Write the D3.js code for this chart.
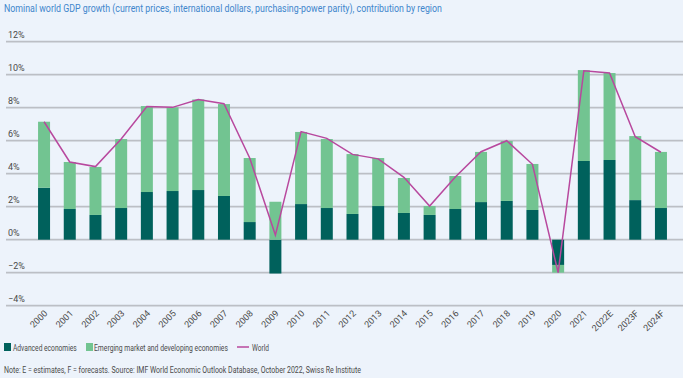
<!DOCTYPE html>
<html><head><meta charset="utf-8">
<script src="https://cdn.jsdelivr.net/npm/d3@7"></script>
<style>
html,body{margin:0;padding:0;background:#edf3fb;}
svg{display:block;}
text{font-family:"Roboto","Liberation Sans",sans-serif;}
</style></head>
<body>
<svg id="chart" width="683" height="378"></svg>
<script>
const years = ["2000","2001","2002","2003","2004","2005","2006","2007","2008","2009","2010","2011","2012","2013","2014","2015","2016","2017","2018","2019","2020","2021","2022E","2023F","2024F"];
const advanced = [3.15,1.86,1.5,1.92,2.89,2.95,3.01,2.65,1.07,-2.05,2.16,1.92,1.56,2.04,1.62,1.5,1.86,2.28,2.35,1.8,-1.53,4.77,4.83,2.4,1.92];
const emerging = [4.0,2.85,2.91,4.18,5.21,5.07,5.49,5.57,3.88,2.3,4.37,4.18,3.63,2.91,2.12,0.54,2.0,3.04,3.63,2.79,-0.47,5.51,5.27,3.88,3.4];
const world = [7.15,4.71,4.43,6.1,8.07,8.02,8.5,8.24,4.95,0.28,6.55,6.14,5.17,4.9,3.78,2.04,3.8,5.33,6.0,4.57,-2.0,10.24,10.1,6.24,5.3];
const yTicks = [-4,-2,0,2,4,6,8,10,12];
const seriesNames = ["Advanced economies","Emerging market and developing economies","World"];
const colors = {adv:"#00615c", emg:"#72c491", world:"#b8489e"};

const svg = d3.select("#chart");
const x = d3.scaleBand().domain(years).range([31.2, 673.8]).paddingInner(0.533).paddingOuter(0.2665);
const y = d3.scaleLinear().domain([-4, 12]).range([305.7, 41.7]);

// helper: place text condensed horizontally to a target width
function fitText(sel, px, py, width){
  const w = sel.node().getComputedTextLength();
  const s = Math.min(1, width / w);
  sel.attr("transform", `translate(${px},${py}) scale(${s},1)`);
  return sel;
}

// title
fitText(svg.append("text").attr("fill","#3f86cc").attr("font-size",11.5)
  .text("Nominal world GDP growth (current prices, international dollars, purchasing-power parity), contribution by region"), 4, 12, 438);

// gridlines
svg.append("g").selectAll("line").data(yTicks).join("line")
  .attr("x1",6).attr("x2",683).attr("y1",d=>y(d)).attr("y2",d=>y(d))
  .attr("stroke","#bcbfc5").attr("stroke-width",1.8);
svg.append("g").selectAll("text").data(yTicks).join("text")
  .attr("x",8).attr("y",d=>y(d)-4).attr("font-size",9).attr("fill","#4a4a4a")
  .text(d=> (d<0? "\u2212"+Math.abs(d) : d) + "%");

// bars
const bw = x.bandwidth();
const barsG = svg.append("g");
years.forEach((yr,i)=>{
  const a = advanced[i], e = emerging[i];
  barsG.append("rect").attr("x",x(yr)).attr("width",bw)
    .attr("y", y(Math.max(0,a))).attr("height", Math.abs(y(a)-y(0))).attr("fill",colors.adv);
  const base = ((e>=0) === (a>=0)) ? a : 0;
  const top = base + e;
  barsG.append("rect").attr("x",x(yr)).attr("width",bw)
    .attr("y", y(Math.max(base,top))).attr("height", Math.abs(y(top)-y(base))).attr("fill",colors.emg);
});

// world line
const line = d3.line().x((d,i)=>x(years[i])+bw/2).y(d=>y(d));
svg.append("path").datum(world).attr("d",line).attr("fill","none")
  .attr("stroke",colors.world).attr("stroke-width",1.5);

// x labels
svg.append("g").selectAll("text").data(years).join("text")
  .attr("transform",d=>`translate(${x(d)+bw/2+4},${314}) rotate(-45)`)
  .attr("text-anchor","end").attr("font-size",9).attr("fill","#4a4a4a").text(d=>d);

// legend
const lg = svg.append("g").attr("font-size",9).attr("fill","#4a4a4a");
lg.append("rect").attr("x",4).attr("y",343).attr("width",7).attr("height",8).attr("fill",colors.adv);
fitText(lg.append("text").text(seriesNames[0]), 13, 350.5, 64);
lg.append("rect").attr("x",86).attr("y",343).attr("width",7).attr("height",8).attr("fill",colors.emg);
fitText(lg.append("text").text(seriesNames[1]), 94, 350.5, 134);
lg.append("line").attr("x1",237).attr("x2",249).attr("y1",347).attr("y2",347).attr("stroke",colors.world).attr("stroke-width",1.5);
fitText(lg.append("text").text(seriesNames[2]), 252, 350.5, 17);

fitText(svg.append("text").attr("font-size",9).attr("fill","#4a4a4a")
  .text("Note: E = estimates, F = forecasts. Source: IMF World Economic Outlook Database, October 2022, Swiss Re Institute"), 4, 372.5, 357);
</script>
</body></html>
